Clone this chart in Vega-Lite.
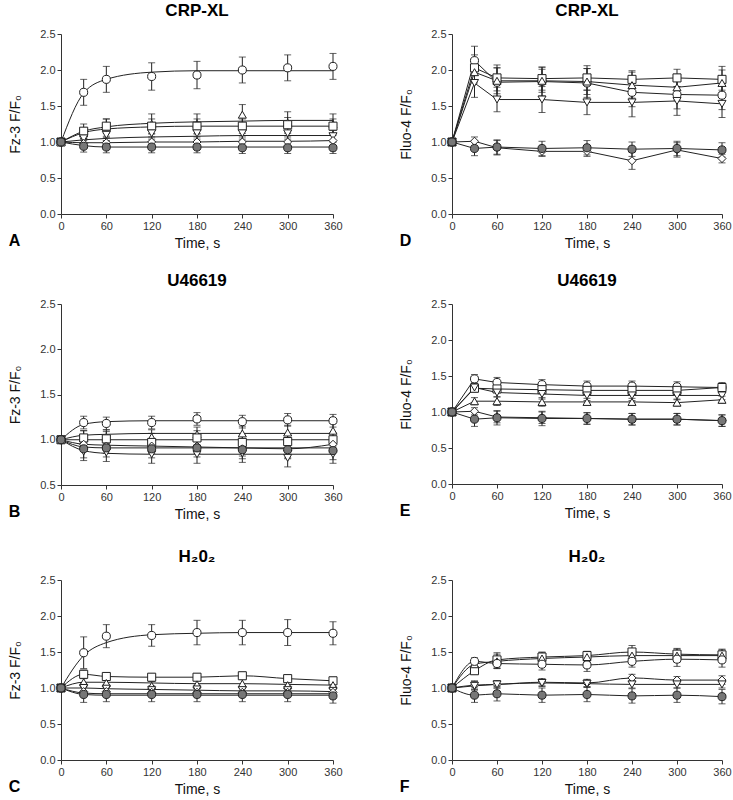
{
"$schema": "https://vega.github.io/schema/vega-lite/v6.json",
"padding": {"left": 8, "top": 2, "right": 0, "bottom": 4},
"background": "white",
"config": {
  "font": "Liberation Sans",
  "view": {"stroke": null},
  "axis": {"grid": false, "labelOverlap": false, "labelFlush": false, "labelFont": "Liberation Sans", "labelFontSize": 11, "labelColor": "#333", "titleFont": "Liberation Sans", "titleFontSize": 14, "titleFontWeight": "normal", "titleColor": "#111", "domainColor": "#333", "tickColor": "#333", "tickSize": 4, "labelPadding": 2},
  "axisY": {"titlePadding": 17},
  "axisX": {"titlePadding": 5},
  "title": {"font": "Liberation Sans", "color": "#000"}
},
"datasets": {
"pts": [
{"p":"A","s":"o","t":0,"y":1,"e":0},{"p":"A","s":"o","t":30,"y":1.69,"e":0.18},{"p":"A","s":"o","t":60,"y":1.87,"e":0.18},{"p":"A","s":"o","t":120,"y":1.91,"e":0.19},{"p":"A","s":"o","t":180,"y":1.93,"e":0.19},{"p":"A","s":"o","t":240,"y":2.0,"e":0.18},{"p":"A","s":"o","t":300,"y":2.03,"e":0.18},{"p":"A","s":"o","t":360,"y":2.05,"e":0.18},
{"p":"A","s":"u","t":0,"y":1,"e":0},{"p":"A","s":"u","t":30,"y":1.12,"e":0.08},{"p":"A","s":"u","t":60,"y":1.2,"e":0.12},{"p":"A","s":"u","t":120,"y":1.25,"e":0.14},{"p":"A","s":"u","t":180,"y":1.25,"e":0.14},{"p":"A","s":"u","t":240,"y":1.38,"e":0.14},{"p":"A","s":"u","t":300,"y":1.27,"e":0.15},{"p":"A","s":"u","t":360,"y":1.25,"e":0.14},
{"p":"A","s":"s","t":0,"y":1,"e":0},{"p":"A","s":"s","t":30,"y":1.15,"e":0.1},{"p":"A","s":"s","t":60,"y":1.22,"e":0.1},{"p":"A","s":"s","t":120,"y":1.22,"e":0.1},{"p":"A","s":"s","t":180,"y":1.22,"e":0.1},{"p":"A","s":"s","t":240,"y":1.22,"e":0.1},{"p":"A","s":"s","t":300,"y":1.24,"e":0.1},{"p":"A","s":"s","t":360,"y":1.22,"e":0.1},
{"p":"A","s":"d","t":0,"y":1,"e":0},{"p":"A","s":"d","t":30,"y":1.05,"e":0.08},{"p":"A","s":"d","t":60,"y":1.1,"e":0.08},{"p":"A","s":"d","t":120,"y":1.12,"e":0.08},{"p":"A","s":"d","t":180,"y":1.12,"e":0.08},{"p":"A","s":"d","t":240,"y":1.12,"e":0.08},{"p":"A","s":"d","t":300,"y":1.12,"e":0.08},{"p":"A","s":"d","t":360,"y":1.08,"e":0.08},
{"p":"A","s":"m","t":0,"y":1,"e":0},{"p":"A","s":"m","t":30,"y":0.98,"e":0.07},{"p":"A","s":"m","t":60,"y":0.99,"e":0.07},{"p":"A","s":"m","t":120,"y":1.0,"e":0.07},{"p":"A","s":"m","t":180,"y":1.0,"e":0.07},{"p":"A","s":"m","t":240,"y":1.0,"e":0.07},{"p":"A","s":"m","t":300,"y":1.0,"e":0.07},{"p":"A","s":"m","t":360,"y":1.02,"e":0.07},
{"p":"A","s":"f","t":0,"y":1,"e":0},{"p":"A","s":"f","t":30,"y":0.94,"e":0.08},{"p":"A","s":"f","t":60,"y":0.93,"e":0.08},{"p":"A","s":"f","t":120,"y":0.93,"e":0.08},{"p":"A","s":"f","t":180,"y":0.93,"e":0.08},{"p":"A","s":"f","t":240,"y":0.92,"e":0.08},{"p":"A","s":"f","t":300,"y":0.92,"e":0.08},{"p":"A","s":"f","t":360,"y":0.92,"e":0.08},

{"p":"D","s":"o","t":0,"y":1,"e":0},{"p":"D","s":"o","t":30,"y":2.13,"e":0.2},{"p":"D","s":"o","t":60,"y":1.83,"e":0.2},{"p":"D","s":"o","t":120,"y":1.84,"e":0.2},{"p":"D","s":"o","t":180,"y":1.82,"e":0.2},{"p":"D","s":"o","t":240,"y":1.69,"e":0.2},{"p":"D","s":"o","t":300,"y":1.66,"e":0.2},{"p":"D","s":"o","t":360,"y":1.65,"e":0.2},
{"p":"D","s":"s","t":0,"y":1,"e":0},{"p":"D","s":"s","t":30,"y":2.03,"e":0.18},{"p":"D","s":"s","t":60,"y":1.89,"e":0.18},{"p":"D","s":"s","t":120,"y":1.88,"e":0.16},{"p":"D","s":"s","t":180,"y":1.89,"e":0.17},{"p":"D","s":"s","t":240,"y":1.87,"e":0.12},{"p":"D","s":"s","t":300,"y":1.89,"e":0.12},{"p":"D","s":"s","t":360,"y":1.87,"e":0.18},
{"p":"D","s":"u","t":0,"y":1,"e":0},{"p":"D","s":"u","t":30,"y":1.97,"e":0.15},{"p":"D","s":"u","t":60,"y":1.85,"e":0.18},{"p":"D","s":"u","t":120,"y":1.85,"e":0.16},{"p":"D","s":"u","t":180,"y":1.84,"e":0.18},{"p":"D","s":"u","t":240,"y":1.79,"e":0.18},{"p":"D","s":"u","t":300,"y":1.76,"e":0.18},{"p":"D","s":"u","t":360,"y":1.82,"e":0.18},
{"p":"D","s":"d","t":0,"y":1,"e":0},{"p":"D","s":"d","t":30,"y":1.82,"e":0.2},{"p":"D","s":"d","t":60,"y":1.59,"e":0.17},{"p":"D","s":"d","t":120,"y":1.59,"e":0.18},{"p":"D","s":"d","t":180,"y":1.55,"e":0.17},{"p":"D","s":"d","t":240,"y":1.55,"e":0.2},{"p":"D","s":"d","t":300,"y":1.57,"e":0.2},{"p":"D","s":"d","t":360,"y":1.53,"e":0.19},
{"p":"D","s":"m","t":0,"y":1,"e":0},{"p":"D","s":"m","t":30,"y":1.01,"e":0.06},{"p":"D","s":"m","t":60,"y":0.92,"e":0.1},{"p":"D","s":"m","t":120,"y":0.87,"e":0.07},{"p":"D","s":"m","t":180,"y":0.87,"e":0.07},{"p":"D","s":"m","t":240,"y":0.74,"e":0.12},{"p":"D","s":"m","t":300,"y":0.89,"e":0.1},{"p":"D","s":"m","t":360,"y":0.77,"e":0.06},
{"p":"D","s":"f","t":0,"y":1,"e":0},{"p":"D","s":"f","t":30,"y":0.91,"e":0.1},{"p":"D","s":"f","t":60,"y":0.93,"e":0.1},{"p":"D","s":"f","t":120,"y":0.91,"e":0.1},{"p":"D","s":"f","t":180,"y":0.92,"e":0.1},{"p":"D","s":"f","t":240,"y":0.9,"e":0.1},{"p":"D","s":"f","t":300,"y":0.91,"e":0.1},{"p":"D","s":"f","t":360,"y":0.89,"e":0.1},

{"p":"B","s":"o","t":0,"y":1,"e":0},{"p":"B","s":"o","t":30,"y":1.19,"e":0.07},{"p":"B","s":"o","t":60,"y":1.18,"e":0.07},{"p":"B","s":"o","t":120,"y":1.19,"e":0.07},{"p":"B","s":"o","t":180,"y":1.23,"e":0.07},{"p":"B","s":"o","t":240,"y":1.2,"e":0.07},{"p":"B","s":"o","t":300,"y":1.22,"e":0.07},{"p":"B","s":"o","t":360,"y":1.21,"e":0.07},
{"p":"B","s":"u","t":0,"y":1,"e":0},{"p":"B","s":"u","t":30,"y":1.02,"e":0.08},{"p":"B","s":"u","t":60,"y":1.03,"e":0.08},{"p":"B","s":"u","t":120,"y":1.03,"e":0.08},{"p":"B","s":"u","t":180,"y":1.06,"e":0.08},{"p":"B","s":"u","t":240,"y":1.07,"e":0.08},{"p":"B","s":"u","t":300,"y":1.08,"e":0.08},{"p":"B","s":"u","t":360,"y":1.1,"e":0.08},
{"p":"B","s":"s","t":0,"y":1,"e":0},{"p":"B","s":"s","t":30,"y":1.02,"e":0.08},{"p":"B","s":"s","t":60,"y":1.01,"e":0.08},{"p":"B","s":"s","t":120,"y":0.97,"e":0.1},{"p":"B","s":"s","t":180,"y":1.02,"e":0.08},{"p":"B","s":"s","t":240,"y":0.97,"e":0.08},{"p":"B","s":"s","t":300,"y":0.98,"e":0.08},{"p":"B","s":"s","t":360,"y":1.0,"e":0.08},
{"p":"B","s":"d","t":0,"y":1,"e":0},{"p":"B","s":"d","t":30,"y":0.87,"e":0.1},{"p":"B","s":"d","t":60,"y":0.86,"e":0.1},{"p":"B","s":"d","t":120,"y":0.84,"e":0.1},{"p":"B","s":"d","t":180,"y":0.84,"e":0.1},{"p":"B","s":"d","t":240,"y":0.85,"e":0.1},{"p":"B","s":"d","t":300,"y":0.8,"e":0.1},{"p":"B","s":"d","t":360,"y":0.84,"e":0.1},
{"p":"B","s":"m","t":0,"y":1,"e":0},{"p":"B","s":"m","t":30,"y":0.95,"e":0.08},{"p":"B","s":"m","t":60,"y":0.93,"e":0.08},{"p":"B","s":"m","t":120,"y":0.93,"e":0.08},{"p":"B","s":"m","t":180,"y":0.93,"e":0.08},{"p":"B","s":"m","t":240,"y":0.9,"e":0.08},{"p":"B","s":"m","t":300,"y":0.88,"e":0.08},{"p":"B","s":"m","t":360,"y":0.95,"e":0.08},
{"p":"B","s":"f","t":0,"y":1,"e":0},{"p":"B","s":"f","t":30,"y":0.9,"e":0.1},{"p":"B","s":"f","t":60,"y":0.91,"e":0.1},{"p":"B","s":"f","t":120,"y":0.9,"e":0.1},{"p":"B","s":"f","t":180,"y":0.91,"e":0.1},{"p":"B","s":"f","t":240,"y":0.89,"e":0.1},{"p":"B","s":"f","t":300,"y":0.89,"e":0.1},{"p":"B","s":"f","t":360,"y":0.88,"e":0.1},

{"p":"E","s":"o","t":0,"y":1,"e":0},{"p":"E","s":"o","t":30,"y":1.46,"e":0.06},{"p":"E","s":"o","t":60,"y":1.41,"e":0.07},{"p":"E","s":"o","t":120,"y":1.38,"e":0.07},{"p":"E","s":"o","t":180,"y":1.36,"e":0.07},{"p":"E","s":"o","t":240,"y":1.36,"e":0.07},{"p":"E","s":"o","t":300,"y":1.35,"e":0.07},{"p":"E","s":"o","t":360,"y":1.34,"e":0.07},
{"p":"E","s":"s","t":0,"y":1,"e":0},{"p":"E","s":"s","t":30,"y":1.33,"e":0.05},{"p":"E","s":"s","t":60,"y":1.32,"e":0.05},{"p":"E","s":"s","t":120,"y":1.31,"e":0.05},{"p":"E","s":"s","t":180,"y":1.3,"e":0.05},{"p":"E","s":"s","t":240,"y":1.3,"e":0.05},{"p":"E","s":"s","t":300,"y":1.3,"e":0.05},{"p":"E","s":"s","t":360,"y":1.34,"e":0.05},
{"p":"E","s":"d","t":0,"y":1,"e":0},{"p":"E","s":"d","t":30,"y":1.34,"e":0.06},{"p":"E","s":"d","t":60,"y":1.27,"e":0.06},{"p":"E","s":"d","t":120,"y":1.25,"e":0.07},{"p":"E","s":"d","t":180,"y":1.23,"e":0.07},{"p":"E","s":"d","t":240,"y":1.23,"e":0.07},{"p":"E","s":"d","t":300,"y":1.23,"e":0.06},{"p":"E","s":"d","t":360,"y":1.23,"e":0.06},
{"p":"E","s":"u","t":0,"y":1,"e":0},{"p":"E","s":"u","t":30,"y":1.15,"e":0.05},{"p":"E","s":"u","t":60,"y":1.15,"e":0.06},{"p":"E","s":"u","t":120,"y":1.14,"e":0.06},{"p":"E","s":"u","t":180,"y":1.14,"e":0.05},{"p":"E","s":"u","t":240,"y":1.14,"e":0.05},{"p":"E","s":"u","t":300,"y":1.13,"e":0.05},{"p":"E","s":"u","t":360,"y":1.17,"e":0.05},
{"p":"E","s":"m","t":0,"y":1,"e":0},{"p":"E","s":"m","t":30,"y":1.01,"e":0.05},{"p":"E","s":"m","t":60,"y":0.93,"e":0.08},{"p":"E","s":"m","t":120,"y":0.92,"e":0.08},{"p":"E","s":"m","t":180,"y":0.91,"e":0.08},{"p":"E","s":"m","t":240,"y":0.9,"e":0.08},{"p":"E","s":"m","t":300,"y":0.9,"e":0.08},{"p":"E","s":"m","t":360,"y":0.88,"e":0.08},
{"p":"E","s":"f","t":0,"y":1,"e":0},{"p":"E","s":"f","t":30,"y":0.9,"e":0.1},{"p":"E","s":"f","t":60,"y":0.92,"e":0.1},{"p":"E","s":"f","t":120,"y":0.91,"e":0.1},{"p":"E","s":"f","t":180,"y":0.91,"e":0.08},{"p":"E","s":"f","t":240,"y":0.9,"e":0.08},{"p":"E","s":"f","t":300,"y":0.9,"e":0.08},{"p":"E","s":"f","t":360,"y":0.88,"e":0.08},

{"p":"C","s":"o","t":0,"y":1,"e":0},{"p":"C","s":"o","t":30,"y":1.49,"e":0.22},{"p":"C","s":"o","t":60,"y":1.72,"e":0.16},{"p":"C","s":"o","t":120,"y":1.73,"e":0.15},{"p":"C","s":"o","t":180,"y":1.77,"e":0.17},{"p":"C","s":"o","t":240,"y":1.77,"e":0.17},{"p":"C","s":"o","t":300,"y":1.77,"e":0.18},{"p":"C","s":"o","t":360,"y":1.76,"e":0.16},
{"p":"C","s":"s","t":0,"y":1,"e":0},{"p":"C","s":"s","t":30,"y":1.19,"e":0.06},{"p":"C","s":"s","t":60,"y":1.16,"e":0.05},{"p":"C","s":"s","t":120,"y":1.15,"e":0.05},{"p":"C","s":"s","t":180,"y":1.15,"e":0.05},{"p":"C","s":"s","t":240,"y":1.17,"e":0.05},{"p":"C","s":"s","t":300,"y":1.13,"e":0.05},{"p":"C","s":"s","t":360,"y":1.1,"e":0.05},
{"p":"C","s":"u","t":0,"y":1,"e":0},{"p":"C","s":"u","t":30,"y":1.08,"e":0.06},{"p":"C","s":"u","t":60,"y":1.07,"e":0.06},{"p":"C","s":"u","t":120,"y":1.03,"e":0.06},{"p":"C","s":"u","t":180,"y":1.05,"e":0.06},{"p":"C","s":"u","t":240,"y":1.06,"e":0.06},{"p":"C","s":"u","t":300,"y":1.04,"e":0.06},{"p":"C","s":"u","t":360,"y":1.04,"e":0.06},
{"p":"C","s":"d","t":0,"y":1,"e":0},{"p":"C","s":"d","t":30,"y":1.0,"e":0.06},{"p":"C","s":"d","t":60,"y":0.99,"e":0.06},{"p":"C","s":"d","t":120,"y":0.97,"e":0.06},{"p":"C","s":"d","t":180,"y":0.98,"e":0.06},{"p":"C","s":"d","t":240,"y":0.97,"e":0.06},{"p":"C","s":"d","t":300,"y":0.97,"e":0.06},{"p":"C","s":"d","t":360,"y":0.96,"e":0.06},
{"p":"C","s":"m","t":0,"y":1,"e":0},{"p":"C","s":"m","t":30,"y":0.95,"e":0.06},{"p":"C","s":"m","t":60,"y":0.95,"e":0.06},{"p":"C","s":"m","t":120,"y":0.94,"e":0.06},{"p":"C","s":"m","t":180,"y":0.94,"e":0.06},{"p":"C","s":"m","t":240,"y":0.94,"e":0.06},{"p":"C","s":"m","t":300,"y":0.94,"e":0.06},{"p":"C","s":"m","t":360,"y":0.94,"e":0.06},
{"p":"C","s":"f","t":0,"y":1,"e":0},{"p":"C","s":"f","t":30,"y":0.91,"e":0.11},{"p":"C","s":"f","t":60,"y":0.91,"e":0.1},{"p":"C","s":"f","t":120,"y":0.91,"e":0.1},{"p":"C","s":"f","t":180,"y":0.91,"e":0.1},{"p":"C","s":"f","t":240,"y":0.91,"e":0.1},{"p":"C","s":"f","t":300,"y":0.91,"e":0.1},{"p":"C","s":"f","t":360,"y":0.89,"e":0.1},

{"p":"F","s":"s","t":0,"y":1,"e":0},{"p":"F","s":"s","t":30,"y":1.24,"e":0.05},{"p":"F","s":"s","t":60,"y":1.39,"e":0.1},{"p":"F","s":"s","t":120,"y":1.43,"e":0.07},{"p":"F","s":"s","t":180,"y":1.45,"e":0.06},{"p":"F","s":"s","t":240,"y":1.5,"e":0.09},{"p":"F","s":"s","t":300,"y":1.47,"e":0.08},{"p":"F","s":"s","t":360,"y":1.46,"e":0.08},
{"p":"F","s":"u","t":0,"y":1,"e":0},{"p":"F","s":"u","t":30,"y":1.33,"e":0.06},{"p":"F","s":"u","t":60,"y":1.37,"e":0.1},{"p":"F","s":"u","t":120,"y":1.41,"e":0.08},{"p":"F","s":"u","t":180,"y":1.43,"e":0.06},{"p":"F","s":"u","t":240,"y":1.45,"e":0.08},{"p":"F","s":"u","t":300,"y":1.45,"e":0.09},{"p":"F","s":"u","t":360,"y":1.45,"e":0.08},
{"p":"F","s":"o","t":0,"y":1,"e":0},{"p":"F","s":"o","t":30,"y":1.37,"e":0.05},{"p":"F","s":"o","t":60,"y":1.34,"e":0.07},{"p":"F","s":"o","t":120,"y":1.33,"e":0.08},{"p":"F","s":"o","t":180,"y":1.32,"e":0.09},{"p":"F","s":"o","t":240,"y":1.37,"e":0.08},{"p":"F","s":"o","t":300,"y":1.4,"e":0.1},{"p":"F","s":"o","t":360,"y":1.39,"e":0.1},
{"p":"F","s":"m","t":0,"y":1,"e":0},{"p":"F","s":"m","t":30,"y":1.04,"e":0.06},{"p":"F","s":"m","t":60,"y":1.05,"e":0.05},{"p":"F","s":"m","t":120,"y":1.08,"e":0.05},{"p":"F","s":"m","t":180,"y":1.07,"e":0.05},{"p":"F","s":"m","t":240,"y":1.14,"e":0.05},{"p":"F","s":"m","t":300,"y":1.11,"e":0.05},{"p":"F","s":"m","t":360,"y":1.11,"e":0.06},
{"p":"F","s":"d","t":0,"y":1,"e":0},{"p":"F","s":"d","t":30,"y":1.03,"e":0.06},{"p":"F","s":"d","t":60,"y":1.05,"e":0.05},{"p":"F","s":"d","t":120,"y":1.07,"e":0.05},{"p":"F","s":"d","t":180,"y":1.06,"e":0.05},{"p":"F","s":"d","t":240,"y":1.05,"e":0.05},{"p":"F","s":"d","t":300,"y":1.05,"e":0.05},{"p":"F","s":"d","t":360,"y":1.05,"e":0.05},
{"p":"F","s":"f","t":0,"y":1,"e":0},{"p":"F","s":"f","t":30,"y":0.9,"e":0.1},{"p":"F","s":"f","t":60,"y":0.92,"e":0.1},{"p":"F","s":"f","t":120,"y":0.9,"e":0.1},{"p":"F","s":"f","t":180,"y":0.91,"e":0.1},{"p":"F","s":"f","t":240,"y":0.89,"e":0.1},{"p":"F","s":"f","t":300,"y":0.9,"e":0.1},{"p":"F","s":"f","t":360,"y":0.88,"e":0.1}
],
"fits": [
{"p":"A","s":"o","t":0,"y":1},{"p":"A","s":"o","t":30,"y":1.68},{"p":"A","s":"o","t":60,"y":1.87},{"p":"A","s":"o","t":120,"y":1.97},{"p":"A","s":"o","t":180,"y":1.99},{"p":"A","s":"o","t":240,"y":1.99},{"p":"A","s":"o","t":300,"y":1.99},{"p":"A","s":"o","t":360,"y":1.99},
{"p":"A","s":"u","t":0,"y":1},{"p":"A","s":"u","t":30,"y":1.15},{"p":"A","s":"u","t":60,"y":1.21},{"p":"A","s":"u","t":120,"y":1.26},{"p":"A","s":"u","t":180,"y":1.28},{"p":"A","s":"u","t":240,"y":1.29},{"p":"A","s":"u","t":300,"y":1.3},{"p":"A","s":"u","t":360,"y":1.3},
{"p":"A","s":"s","t":0,"y":1},{"p":"A","s":"s","t":30,"y":1.13},{"p":"A","s":"s","t":60,"y":1.18},{"p":"A","s":"s","t":120,"y":1.21},{"p":"A","s":"s","t":180,"y":1.22},{"p":"A","s":"s","t":240,"y":1.22},{"p":"A","s":"s","t":300,"y":1.22},{"p":"A","s":"s","t":360,"y":1.22},
{"p":"A","s":"d","t":0,"y":1},{"p":"A","s":"d","t":30,"y":1.03},{"p":"A","s":"d","t":60,"y":1.05},{"p":"A","s":"d","t":120,"y":1.07},{"p":"A","s":"d","t":180,"y":1.08},{"p":"A","s":"d","t":240,"y":1.09},{"p":"A","s":"d","t":300,"y":1.09},{"p":"A","s":"d","t":360,"y":1.09},
{"p":"A","s":"m","t":0,"y":1},{"p":"A","s":"m","t":30,"y":0.99},{"p":"A","s":"m","t":60,"y":0.99},{"p":"A","s":"m","t":120,"y":1.0},{"p":"A","s":"m","t":180,"y":1.0},{"p":"A","s":"m","t":240,"y":1.01},{"p":"A","s":"m","t":300,"y":1.01},{"p":"A","s":"m","t":360,"y":1.02},
{"p":"A","s":"f","t":0,"y":1},{"p":"A","s":"f","t":30,"y":0.95},{"p":"A","s":"f","t":60,"y":0.93},{"p":"A","s":"f","t":120,"y":0.93},{"p":"A","s":"f","t":180,"y":0.93},{"p":"A","s":"f","t":240,"y":0.93},{"p":"A","s":"f","t":300,"y":0.93},{"p":"A","s":"f","t":360,"y":0.93},
{"p":"B","s":"o","t":0,"y":1},{"p":"B","s":"o","t":30,"y":1.17},{"p":"B","s":"o","t":60,"y":1.2},{"p":"B","s":"o","t":120,"y":1.21},{"p":"B","s":"o","t":180,"y":1.21},{"p":"B","s":"o","t":240,"y":1.21},{"p":"B","s":"o","t":300,"y":1.21},{"p":"B","s":"o","t":360,"y":1.21},
{"p":"B","s":"u","t":0,"y":1},{"p":"B","s":"u","t":30,"y":1.05},{"p":"B","s":"u","t":60,"y":1.06},{"p":"B","s":"u","t":120,"y":1.07},{"p":"B","s":"u","t":180,"y":1.07},{"p":"B","s":"u","t":240,"y":1.07},{"p":"B","s":"u","t":300,"y":1.07},{"p":"B","s":"u","t":360,"y":1.07},
{"p":"B","s":"s","t":0,"y":1},{"p":"B","s":"s","t":30,"y":1.0},{"p":"B","s":"s","t":60,"y":1.0},{"p":"B","s":"s","t":120,"y":1.0},{"p":"B","s":"s","t":180,"y":1.0},{"p":"B","s":"s","t":240,"y":1.0},{"p":"B","s":"s","t":300,"y":1.0},{"p":"B","s":"s","t":360,"y":1.0},
{"p":"B","s":"m","t":0,"y":1},{"p":"B","s":"m","t":30,"y":0.95},{"p":"B","s":"m","t":60,"y":0.94},{"p":"B","s":"m","t":120,"y":0.93},{"p":"B","s":"m","t":180,"y":0.92},{"p":"B","s":"m","t":240,"y":0.91},{"p":"B","s":"m","t":300,"y":0.9},{"p":"B","s":"m","t":360,"y":0.95},
{"p":"B","s":"f","t":0,"y":1},{"p":"B","s":"f","t":30,"y":0.92},{"p":"B","s":"f","t":60,"y":0.91},{"p":"B","s":"f","t":120,"y":0.91},{"p":"B","s":"f","t":180,"y":0.91},{"p":"B","s":"f","t":240,"y":0.91},{"p":"B","s":"f","t":300,"y":0.91},{"p":"B","s":"f","t":360,"y":0.91},
{"p":"B","s":"d","t":0,"y":1},{"p":"B","s":"d","t":30,"y":0.88},{"p":"B","s":"d","t":60,"y":0.85},{"p":"B","s":"d","t":120,"y":0.84},{"p":"B","s":"d","t":180,"y":0.84},{"p":"B","s":"d","t":240,"y":0.84},{"p":"B","s":"d","t":300,"y":0.84},{"p":"B","s":"d","t":360,"y":0.84},
{"p":"C","s":"o","t":0,"y":1},{"p":"C","s":"o","t":30,"y":1.45},{"p":"C","s":"o","t":60,"y":1.63},{"p":"C","s":"o","t":120,"y":1.74},{"p":"C","s":"o","t":180,"y":1.76},{"p":"C","s":"o","t":240,"y":1.77},{"p":"C","s":"o","t":300,"y":1.77},{"p":"C","s":"o","t":360,"y":1.77},
{"p":"C","s":"s","t":0,"y":1},{"p":"C","s":"s","t":30,"y":1.19},{"p":"C","s":"s","t":60,"y":1.16},{"p":"C","s":"s","t":120,"y":1.15},{"p":"C","s":"s","t":180,"y":1.15},{"p":"C","s":"s","t":240,"y":1.17},{"p":"C","s":"s","t":300,"y":1.13},{"p":"C","s":"s","t":360,"y":1.1},
{"p":"C","s":"u","t":0,"y":1},{"p":"C","s":"u","t":30,"y":1.08},{"p":"C","s":"u","t":60,"y":1.08},{"p":"C","s":"u","t":120,"y":1.07},{"p":"C","s":"u","t":180,"y":1.06},{"p":"C","s":"u","t":240,"y":1.06},{"p":"C","s":"u","t":300,"y":1.05},{"p":"C","s":"u","t":360,"y":1.04},
{"p":"C","s":"d","t":0,"y":1},{"p":"C","s":"d","t":30,"y":1.0},{"p":"C","s":"d","t":60,"y":0.99},{"p":"C","s":"d","t":120,"y":0.98},{"p":"C","s":"d","t":180,"y":0.97},{"p":"C","s":"d","t":240,"y":0.96},{"p":"C","s":"d","t":300,"y":0.96},{"p":"C","s":"d","t":360,"y":0.95},
{"p":"C","s":"m","t":0,"y":1},{"p":"C","s":"m","t":30,"y":0.93},{"p":"C","s":"m","t":60,"y":0.92},{"p":"C","s":"m","t":120,"y":0.92},{"p":"C","s":"m","t":180,"y":0.92},{"p":"C","s":"m","t":240,"y":0.92},{"p":"C","s":"m","t":300,"y":0.92},{"p":"C","s":"m","t":360,"y":0.92},
{"p":"C","s":"f","t":0,"y":1},{"p":"C","s":"f","t":30,"y":0.91},{"p":"C","s":"f","t":60,"y":0.9},{"p":"C","s":"f","t":120,"y":0.9},{"p":"C","s":"f","t":180,"y":0.9},{"p":"C","s":"f","t":240,"y":0.9},{"p":"C","s":"f","t":300,"y":0.9},{"p":"C","s":"f","t":360,"y":0.9}
]
},
"spacing": 22,
"vconcat": [
{"hconcat": [
 {"title": {"text": "A", "orient": "bottom", "anchor": "start", "offset": -17, "fontSize": 16, "fontWeight": "bold"},
  "vconcat": [{
   "title": {"text": "CRP-XL", "fontSize": 17, "fontWeight": "bold", "frame": "group", "offset": 8},
   "width": 272, "height": 180,
   "layer": [
    {"data": {"name": "fits"}, "transform": [{"filter": "datum.p == 'A'"}],
     "mark": {"type": "line", "interpolate": "monotone", "color": "#222", "strokeWidth": 1},
     "encoding": {"x": {"field": "t", "type": "quantitative", "title": "Time, s", "scale": {"domain": [0, 360], "nice": false}, "axis": {"values": [0, 60, 120, 180, 240, 300, 360], "labelOverlap": false}},
      "y": {"field": "y", "type": "quantitative", "title": "Fz-3 F/F₀", "scale": {"domain": [0, 2.5], "nice": false}, "axis": {"values": [0, 0.5, 1, 1.5, 2, 2.5], "tickCount": 6, "format": ".1f", "labelOverlap": false}},
      "detail": {"field": "s"}}},
    {"data": {"name": "pts"}, "transform": [{"filter": "datum.p == 'A' && datum.t > 0"}],
     "mark": {"type": "errorbar", "ticks": {"size": 7}, "color": "#222", "thickness": 1},
     "encoding": {"x": {"field": "t", "type": "quantitative", "title": "Time, s"}, "y": {"field": "y", "type": "quantitative", "title": "Fz-3 F/F₀", "axis": {"values": [0, 0.5, 1, 1.5, 2, 2.5], "tickCount": 6, "format": ".1f", "labelOverlap": false}}, "yError": {"field": "e"}}},
    {"data": {"name": "pts"}, "transform": [{"filter": "datum.p == 'A'"}],
     "mark": {"type": "point", "filled": true, "size": 65, "stroke": "#222", "strokeWidth": 1, "opacity": 1},
     "encoding": {"x": {"field": "t", "type": "quantitative", "title": "Time, s"}, "y": {"field": "y", "type": "quantitative", "title": "Fz-3 F/F₀", "axis": {"values": [0, 0.5, 1, 1.5, 2, 2.5], "tickCount": 6, "format": ".1f", "labelOverlap": false}},
      "shape": {"field": "s", "scale": {"domain": ["o", "s", "u", "d", "m", "f"], "range": ["circle", "square", "triangle-up", "triangle-down", "diamond", "circle"]}, "legend": null},
      "fill": {"field": "s", "scale": {"domain": ["o", "s", "u", "d", "m", "f"], "range": ["white", "white", "white", "white", "white", "#777"]}, "legend": null}}}
   ]}]},
 {"title": {"text": "D", "orient": "bottom", "anchor": "start", "offset": -17, "fontSize": 16, "fontWeight": "bold"},
  "vconcat": [{
   "title": {"text": "CRP-XL", "fontSize": 17, "fontWeight": "bold", "frame": "group", "offset": 8},
   "width": 270, "height": 180,
   "layer": [
    {"data": {"name": "pts"}, "transform": [{"filter": "datum.p == 'D'"}],
     "mark": {"type": "line", "color": "#222", "strokeWidth": 1},
     "encoding": {"x": {"field": "t", "type": "quantitative", "title": "Time, s", "scale": {"domain": [0, 360], "nice": false}, "axis": {"values": [0, 60, 120, 180, 240, 300, 360], "labelOverlap": false}},
      "y": {"field": "y", "type": "quantitative", "title": "Fluo-4 F/F₀", "scale": {"domain": [0, 2.5], "nice": false}, "axis": {"values": [0, 0.5, 1, 1.5, 2, 2.5], "tickCount": 6, "format": ".1f", "labelOverlap": false}},
      "detail": {"field": "s"}}},
    {"data": {"name": "pts"}, "transform": [{"filter": "datum.p == 'D' && datum.t > 0"}],
     "mark": {"type": "errorbar", "ticks": {"size": 7}, "color": "#222", "thickness": 1},
     "encoding": {"x": {"field": "t", "type": "quantitative", "title": "Time, s"}, "y": {"field": "y", "type": "quantitative", "title": "Fluo-4 F/F₀", "axis": {"values": [0, 0.5, 1, 1.5, 2, 2.5], "tickCount": 6, "format": ".1f", "labelOverlap": false}}, "yError": {"field": "e"}}},
    {"data": {"name": "pts"}, "transform": [{"filter": "datum.p == 'D'"}],
     "mark": {"type": "point", "filled": true, "size": 65, "stroke": "#222", "strokeWidth": 1, "opacity": 1},
     "encoding": {"x": {"field": "t", "type": "quantitative", "title": "Time, s"}, "y": {"field": "y", "type": "quantitative", "title": "Fluo-4 F/F₀", "axis": {"values": [0, 0.5, 1, 1.5, 2, 2.5], "tickCount": 6, "format": ".1f", "labelOverlap": false}},
      "shape": {"field": "s", "scale": {"domain": ["o", "s", "u", "d", "m", "f"], "range": ["circle", "square", "triangle-up", "triangle-down", "diamond", "circle"]}, "legend": null},
      "fill": {"field": "s", "scale": {"domain": ["o", "s", "u", "d", "m", "f"], "range": ["white", "white", "white", "white", "white", "#777"]}, "legend": null}}}
   ]}]}
], "spacing": 56},
{"spacing": 27, "vconcat": [
{"hconcat": [
 {"title": {"text": "B", "orient": "bottom", "anchor": "start", "offset": -17, "fontSize": 16, "fontWeight": "bold"},
  "vconcat": [{
   "title": {"text": "U46619", "fontSize": 17, "fontWeight": "bold", "frame": "group", "offset": 8},
   "width": 272, "height": 181,
   "layer": [
    {"data": {"name": "fits"}, "transform": [{"filter": "datum.p == 'B'"}],
     "mark": {"type": "line", "interpolate": "monotone", "color": "#222", "strokeWidth": 1},
     "encoding": {"x": {"field": "t", "type": "quantitative", "title": "Time, s", "scale": {"domain": [0, 360], "nice": false}, "axis": {"values": [0, 60, 120, 180, 240, 300, 360], "labelOverlap": false}},
      "y": {"field": "y", "type": "quantitative", "title": "Fz-3 F/F₀", "scale": {"domain": [0.5, 2.5], "nice": false, "zero": false}, "axis": {"values": [0.5, 1, 1.5, 2, 2.5], "format": ".1f", "labelOverlap": false}},
      "detail": {"field": "s"}}},
    {"data": {"name": "pts"}, "transform": [{"filter": "datum.p == 'B' && datum.t > 0"}],
     "mark": {"type": "errorbar", "ticks": {"size": 7}, "color": "#222", "thickness": 1},
     "encoding": {"x": {"field": "t", "type": "quantitative", "title": "Time, s"}, "y": {"field": "y", "type": "quantitative", "title": "Fz-3 F/F₀", "axis": {"values": [0.5, 1, 1.5, 2, 2.5], "format": ".1f", "labelOverlap": false}}, "yError": {"field": "e"}}},
    {"data": {"name": "pts"}, "transform": [{"filter": "datum.p == 'B'"}],
     "mark": {"type": "point", "filled": true, "size": 65, "stroke": "#222", "strokeWidth": 1, "opacity": 1},
     "encoding": {"x": {"field": "t", "type": "quantitative", "title": "Time, s"}, "y": {"field": "y", "type": "quantitative", "title": "Fz-3 F/F₀", "axis": {"values": [0.5, 1, 1.5, 2, 2.5], "format": ".1f", "labelOverlap": false}},
      "shape": {"field": "s", "scale": {"domain": ["o", "s", "u", "d", "m", "f"], "range": ["circle", "square", "triangle-up", "triangle-down", "diamond", "circle"]}, "legend": null},
      "fill": {"field": "s", "scale": {"domain": ["o", "s", "u", "d", "m", "f"], "range": ["white", "white", "white", "white", "white", "#777"]}, "legend": null}}}
   ]}]},
 {"title": {"text": "E", "orient": "bottom", "anchor": "start", "offset": -17, "fontSize": 16, "fontWeight": "bold"},
  "vconcat": [{
   "title": {"text": "U46619", "fontSize": 17, "fontWeight": "bold", "frame": "group", "offset": 8},
   "width": 270, "height": 180,
   "layer": [
    {"data": {"name": "pts"}, "transform": [{"filter": "datum.p == 'E'"}],
     "mark": {"type": "line", "color": "#222", "strokeWidth": 1},
     "encoding": {"x": {"field": "t", "type": "quantitative", "title": "Time, s", "scale": {"domain": [0, 360], "nice": false}, "axis": {"values": [0, 60, 120, 180, 240, 300, 360], "labelOverlap": false}},
      "y": {"field": "y", "type": "quantitative", "title": "Fluo-4 F/F₀", "scale": {"domain": [0, 2.5], "nice": false}, "axis": {"values": [0, 0.5, 1, 1.5, 2, 2.5], "tickCount": 6, "format": ".1f", "labelOverlap": false}},
      "detail": {"field": "s"}}},
    {"data": {"name": "pts"}, "transform": [{"filter": "datum.p == 'E' && datum.t > 0"}],
     "mark": {"type": "errorbar", "ticks": {"size": 7}, "color": "#222", "thickness": 1},
     "encoding": {"x": {"field": "t", "type": "quantitative", "title": "Time, s"}, "y": {"field": "y", "type": "quantitative", "title": "Fluo-4 F/F₀", "axis": {"values": [0, 0.5, 1, 1.5, 2, 2.5], "tickCount": 6, "format": ".1f", "labelOverlap": false}}, "yError": {"field": "e"}}},
    {"data": {"name": "pts"}, "transform": [{"filter": "datum.p == 'E'"}],
     "mark": {"type": "point", "filled": true, "size": 65, "stroke": "#222", "strokeWidth": 1, "opacity": 1},
     "encoding": {"x": {"field": "t", "type": "quantitative", "title": "Time, s"}, "y": {"field": "y", "type": "quantitative", "title": "Fluo-4 F/F₀", "axis": {"values": [0, 0.5, 1, 1.5, 2, 2.5], "tickCount": 6, "format": ".1f", "labelOverlap": false}},
      "shape": {"field": "s", "scale": {"domain": ["o", "s", "u", "d", "m", "f"], "range": ["circle", "square", "triangle-up", "triangle-down", "diamond", "circle"]}, "legend": null},
      "fill": {"field": "s", "scale": {"domain": ["o", "s", "u", "d", "m", "f"], "range": ["white", "white", "white", "white", "white", "#777"]}, "legend": null}}}
   ]}]}
], "spacing": 56},
{"hconcat": [
 {"title": {"text": "C", "orient": "bottom", "anchor": "start", "offset": -17, "fontSize": 16, "fontWeight": "bold"},
  "vconcat": [{
   "title": {"text": "H₂0₂", "fontSize": 17, "fontWeight": "bold", "frame": "group", "offset": 8},
   "width": 272, "height": 180,
   "layer": [
    {"data": {"name": "fits"}, "transform": [{"filter": "datum.p == 'C'"}],
     "mark": {"type": "line", "interpolate": "monotone", "color": "#222", "strokeWidth": 1},
     "encoding": {"x": {"field": "t", "type": "quantitative", "title": "Time, s", "scale": {"domain": [0, 360], "nice": false}, "axis": {"values": [0, 60, 120, 180, 240, 300, 360], "labelOverlap": false}},
      "y": {"field": "y", "type": "quantitative", "title": "Fz-3 F/F₀", "scale": {"domain": [0, 2.5], "nice": false}, "axis": {"values": [0, 0.5, 1, 1.5, 2, 2.5], "tickCount": 6, "format": ".1f", "labelOverlap": false}},
      "detail": {"field": "s"}}},
    {"data": {"name": "pts"}, "transform": [{"filter": "datum.p == 'C' && datum.t > 0"}],
     "mark": {"type": "errorbar", "ticks": {"size": 7}, "color": "#222", "thickness": 1},
     "encoding": {"x": {"field": "t", "type": "quantitative", "title": "Time, s"}, "y": {"field": "y", "type": "quantitative", "title": "Fz-3 F/F₀", "axis": {"values": [0, 0.5, 1, 1.5, 2, 2.5], "tickCount": 6, "format": ".1f", "labelOverlap": false}}, "yError": {"field": "e"}}},
    {"data": {"name": "pts"}, "transform": [{"filter": "datum.p == 'C'"}],
     "mark": {"type": "point", "filled": true, "size": 65, "stroke": "#222", "strokeWidth": 1, "opacity": 1},
     "encoding": {"x": {"field": "t", "type": "quantitative", "title": "Time, s"}, "y": {"field": "y", "type": "quantitative", "title": "Fz-3 F/F₀", "axis": {"values": [0, 0.5, 1, 1.5, 2, 2.5], "tickCount": 6, "format": ".1f", "labelOverlap": false}},
      "shape": {"field": "s", "scale": {"domain": ["o", "s", "u", "d", "m", "f"], "range": ["circle", "square", "triangle-up", "triangle-down", "diamond", "circle"]}, "legend": null},
      "fill": {"field": "s", "scale": {"domain": ["o", "s", "u", "d", "m", "f"], "range": ["white", "white", "white", "white", "white", "#777"]}, "legend": null}}}
   ]}]},
 {"title": {"text": "F", "orient": "bottom", "anchor": "start", "offset": -17, "fontSize": 16, "fontWeight": "bold"},
  "vconcat": [{
   "title": {"text": "H₂0₂", "fontSize": 17, "fontWeight": "bold", "frame": "group", "offset": 8},
   "width": 270, "height": 180,
   "layer": [
    {"data": {"name": "pts"}, "transform": [{"filter": "datum.p == 'F'"}],
     "mark": {"type": "line", "interpolate": "monotone", "color": "#222", "strokeWidth": 1},
     "encoding": {"x": {"field": "t", "type": "quantitative", "title": "Time, s", "scale": {"domain": [0, 360], "nice": false}, "axis": {"values": [0, 60, 120, 180, 240, 300, 360], "labelOverlap": false}},
      "y": {"field": "y", "type": "quantitative", "title": "Fluo-4 F/F₀", "scale": {"domain": [0, 2.5], "nice": false}, "axis": {"values": [0, 0.5, 1, 1.5, 2, 2.5], "tickCount": 6, "format": ".1f", "labelOverlap": false}},
      "detail": {"field": "s"}}},
    {"data": {"name": "pts"}, "transform": [{"filter": "datum.p == 'F' && datum.t > 0"}],
     "mark": {"type": "errorbar", "ticks": {"size": 7}, "color": "#222", "thickness": 1},
     "encoding": {"x": {"field": "t", "type": "quantitative", "title": "Time, s"}, "y": {"field": "y", "type": "quantitative", "title": "Fluo-4 F/F₀", "axis": {"values": [0, 0.5, 1, 1.5, 2, 2.5], "tickCount": 6, "format": ".1f", "labelOverlap": false}}, "yError": {"field": "e"}}},
    {"data": {"name": "pts"}, "transform": [{"filter": "datum.p == 'F'"}],
     "mark": {"type": "point", "filled": true, "size": 65, "stroke": "#222", "strokeWidth": 1, "opacity": 1},
     "encoding": {"x": {"field": "t", "type": "quantitative", "title": "Time, s"}, "y": {"field": "y", "type": "quantitative", "title": "Fluo-4 F/F₀", "axis": {"values": [0, 0.5, 1, 1.5, 2, 2.5], "tickCount": 6, "format": ".1f", "labelOverlap": false}},
      "shape": {"field": "s", "scale": {"domain": ["o", "s", "u", "d", "m", "f"], "range": ["circle", "square", "triangle-up", "triangle-down", "diamond", "circle"]}, "legend": null},
      "fill": {"field": "s", "scale": {"domain": ["o", "s", "u", "d", "m", "f"], "range": ["white", "white", "white", "white", "white", "#777"]}, "legend": null}}}
   ]}]}
], "spacing": 56}
]}
]
}
